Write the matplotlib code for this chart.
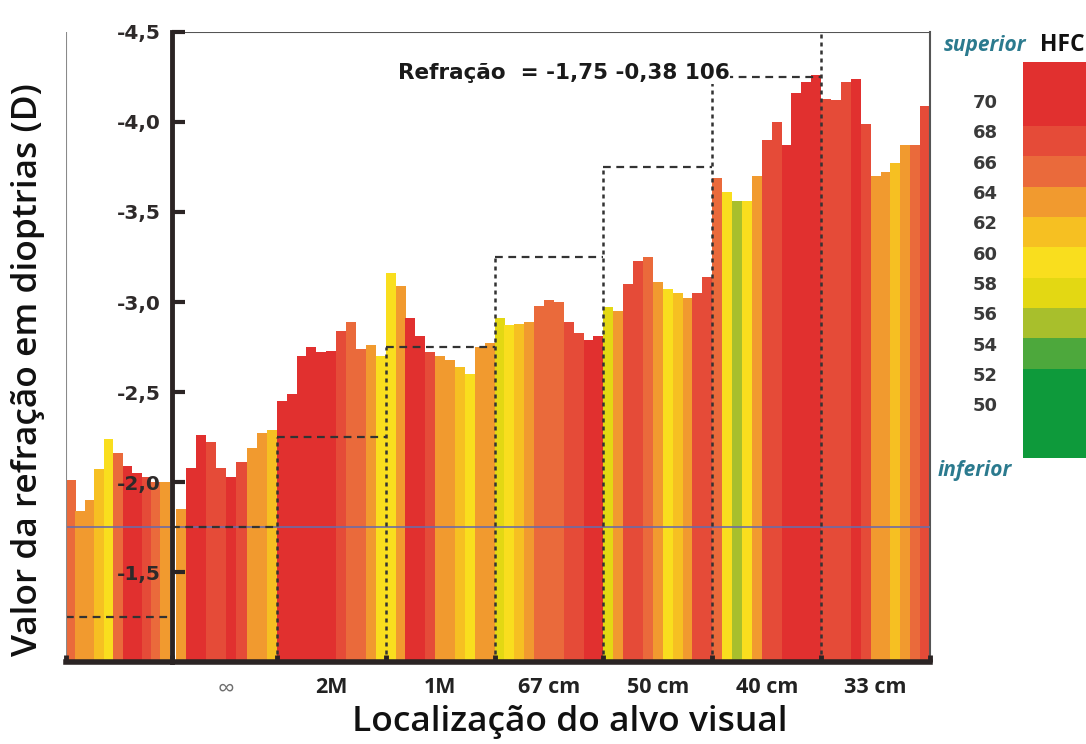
import numpy as np
import matplotlib.pyplot as plt

# ---------------------------------------------------------------------------
# Data
# ---------------------------------------------------------------------------
# HFC colour scale, top to bottom of the legend
HFC_LEVELS = [70, 68, 66, 64, 62, 60, 58, 56, 54, 52, 50]
HFC_COLORS = ["#e1302f", "#e54b38", "#ea6a3b", "#f19a2f", "#f6c022", "#f9de1e",
              "#e3d813", "#a8bf2c", "#4da83c", "#0e9a3b", "#0e9a3b"]

SECTION_LABELS = ["", "∞", "2M", "1M", "67 cm", "50 cm", "40 cm", "33 cm"]
# expected refraction for each target distance (dashed staircase)
EXPECTED = [-1.25, -1.75, -2.25, -2.75, -3.25, -3.75, -4.25, -4.75]

# refraction (D) and HFC per bar, one list per section
REF_LEFT = [-2.01, -1.84, -1.90, -2.07, -2.24, -2.16, -2.09, -2.05, -2.03, -2.00, -2.00]
HFC_LEFT = [66, 64, 64, 62, 60, 66, 70, 70, 68, 66, 64]
REF_INF = [-1.85, -2.08, -2.26, -2.22, -2.08, -2.03, -2.11, -2.19, -2.27, -2.29]
HFC_INF = [64, 70, 70, 68, 68, 70, 68, 64, 64, 62]
REF_2M = [-2.45, -2.49, -2.70, -2.75, -2.72, -2.73, -2.84, -2.89, -2.74, -2.76, -2.70]
HFC_2M = [70, 70, 70, 70, 70, 70, 68, 66, 66, 64, 60]
REF_1M = [-3.16, -3.09, -2.91, -2.81, -2.72, -2.70, -2.68, -2.64, -2.60, -2.75, -2.77]
HFC_1M = [60, 64, 70, 70, 68, 64, 64, 62, 60, 64, 64]
REF_67 = [-2.91, -2.87, -2.88, -2.89, -2.98, -3.01, -3.00, -2.89, -2.83, -2.79, -2.81]
HFC_67 = [58, 60, 62, 64, 66, 66, 66, 68, 68, 70, 70]
REF_50 = [-2.97, -2.95, -3.10, -3.23, -3.25, -3.11, -3.07, -3.05, -3.02, -3.05, -3.14]
HFC_50 = [58, 64, 68, 68, 66, 64, 60, 62, 64, 68, 68]
REF_40 = [-3.69, -3.61, -3.56, -3.56, -3.70, -3.90, -4.00, -3.87, -4.16, -4.22, -4.26]
HFC_40 = [66, 60, 56, 60, 64, 68, 68, 70, 70, 70, 70]
REF_33 = [-4.13, -4.12, -4.22, -4.24, -3.99, -3.70, -3.72, -3.77, -3.87, -3.87, -4.09]
HFC_33 = [68, 68, 68, 70, 68, 64, 64, 62, 64, 66, 68]

REFRACTIONS = [REF_LEFT, REF_INF, REF_2M, REF_1M, REF_67, REF_50, REF_40, REF_33]
HFCS = [HFC_LEFT, HFC_INF, HFC_2M, HFC_1M, HFC_67, HFC_50, HFC_40, HFC_33]

# ---------------------------------------------------------------------------
# Layout
# ---------------------------------------------------------------------------
BASE = -1.0          # bars grow from the bottom of the axis
AXIS_X = 10.7        # where the thick y axis sits
SEC_START = [0.0, 11.1, 21.3, 32.3, 43.3, 54.3, 65.3, 76.3]
SEC_END = [10.5, 21.3, 32.3, 43.3, 54.3, 65.3, 76.3, 87.3]
DARK = "#2b2424"
hfc_color = dict(zip(HFC_LEVELS, HFC_COLORS))

fig = plt.figure(figsize=(10.86, 7.44), dpi=100)
ax = fig.add_axes([0.0608, 0.1102, 0.7956, 0.8468])
ax.set_xlim(0, SEC_END[-1])
ax.set_ylim(BASE, -4.5)

# bars
for start, end, refs, hfcs in zip(SEC_START, SEC_END, REFRACTIONS, HFCS):
    w = (end - start) / len(refs)
    xs = start + w * (np.arange(len(refs)) + 0.5)
    ax.bar(xs, np.array(refs) - BASE, bottom=BASE, width=w * 1.01,
           color=[hfc_color[h] for h in hfcs], linewidth=0, zorder=2)

# horizontal reference line
ax.axhline(-1.75, color="#6c6ca6", linewidth=1.2, zorder=3)

# dashed staircase of expected refraction
for k, (start, end, level) in enumerate(zip(SEC_START, SEC_END, EXPECTED)):
    x0 = AXIS_X if k == 1 else start
    ax.plot([x0, end], [level, level], color="#333333", linewidth=1.6,
            dashes=(3.5, 2.5), zorder=4)
    if k >= 2:
        ax.plot([start, start], [BASE, level], color="#333333", linewidth=1.8,
                dashes=(1.6, 1.6), zorder=4)

# frame pieces
ax.set_axisbelow(False)
ax.axvline(0, color="#8a8a8a", linewidth=1.5, zorder=5)
ax.hlines(-4.5, AXIS_X, SEC_END[-1], color="#555555", linewidth=1.5, zorder=5)
ax.spines["top"].set_visible(False)
ax.spines["right"].set_color("#555555")
ax.spines["right"].set_linewidth(1.5)
ax.spines["left"].set_position(("data", AXIS_X))
ax.spines["left"].set_linewidth(3.5)
ax.spines["left"].set_color(DARK)
ax.spines["left"].set_zorder(6)
ax.spines["bottom"].set_linewidth(4)
ax.spines["bottom"].set_color(DARK)
ax.spines["bottom"].set_zorder(6)

# y ticks
yticks = [-4.5, -4.0, -3.5, -3.0, -2.5, -2.0, -1.5]
ax.set_yticks(yticks)
ax.set_yticklabels([f"{v:.1f}".replace(".", ",") for v in yticks],
                   fontfamily="DejaVu Sans", fontweight="bold", fontsize=14.5,
                   color="#2e2a2a")
ax.tick_params(axis="y", direction="in", length=9, width=3, color=DARK, pad=8)

# x ticks: labels in the middle of each section, stubs at the edges
centers = [(s + e) / 2 for s, e in zip(SEC_START, SEC_END)][1:]
ax.set_xticks(centers)
ax.set_xticklabels(SECTION_LABELS[1:], fontfamily="Open Sans",
                   fontweight="bold", fontsize=15.5, color="#222222")
ax.get_xticklabels()[0].set_color("#6f6f6f")
ax.get_xticklabels()[0].set_fontweight("normal")
ax.get_xticklabels()[0].set_fontsize(17)
ax.tick_params(axis="x", which="major", length=0, pad=11)
ax.set_xticks([0, AXIS_X] + SEC_START[2:] + [SEC_END[-1]], minor=True)
ax.tick_params(axis="x", which="minor", direction="in", length=5, width=3.5,
               color=DARK)
ax.xaxis.set_zorder(7)
ax.yaxis.set_zorder(7)

# annotation
ax.text(33.5, -4.27, "Refração  = -1,75 -0,38 106", fontfamily="DejaVu Sans",
        fontweight="bold", fontsize=15.5, color="#1a1a1a", va="center",
        ha="left", zorder=7,
        bbox=dict(facecolor="white", edgecolor="none", pad=0.5))

# axis titles
fig.text(0.525, 0.029, "Localização do alvo visual", fontfamily="Open Sans",
         fontweight="semibold", fontsize=25.5, ha="center", va="center",
         color="#111111")
fig.text(0.026, 0.503, "Valor da refração em dioptrias (D)",
         fontfamily="Open Sans", fontweight="semibold", fontsize=25.5,
         rotation=90, ha="center", va="center", color="#111111")

# ---------------------------------------------------------------------------
# HFC colour legend
# ---------------------------------------------------------------------------
cax = fig.add_axes([0.942, 0.3844, 0.058, 0.532])
cax.set_xlim(0, 1)
cax.set_ylim(46.6, 72.7)
for i, (lvl, col) in enumerate(zip(HFC_LEVELS, HFC_COLORS)):
    top = 72.7 if i == 0 else lvl + 0.5
    bot = 46.6 if i == len(HFC_LEVELS) - 1 else lvl - 1.5
    cax.bar(0.5, top - bot, bottom=bot, width=1.0, color=col, linewidth=0)
    cax.text(-0.60, lvl, str(lvl), transform=cax.get_yaxis_transform(),
             fontfamily="DejaVu Sans", fontweight="bold", fontsize=13,
             color="#3a3a3a", ha="center", va="center", clip_on=False)
cax.axis("off")

fig.text(0.907, 0.939, "superior", fontfamily="Open Sans", style="italic",
         fontweight="bold", fontsize=15, color="#2b7a8e", ha="center",
         va="center")
fig.text(0.978, 0.939, "HFC", fontfamily="Open Sans", fontweight="bold",
         fontsize=16.5, color="#111111", ha="center", va="center")
fig.text(0.898, 0.368, "inferior", fontfamily="Open Sans", style="italic",
         fontweight="bold", fontsize=15, color="#2b7a8e", ha="center",
         va="center")

fig.savefig("out.png", dpi=100)
